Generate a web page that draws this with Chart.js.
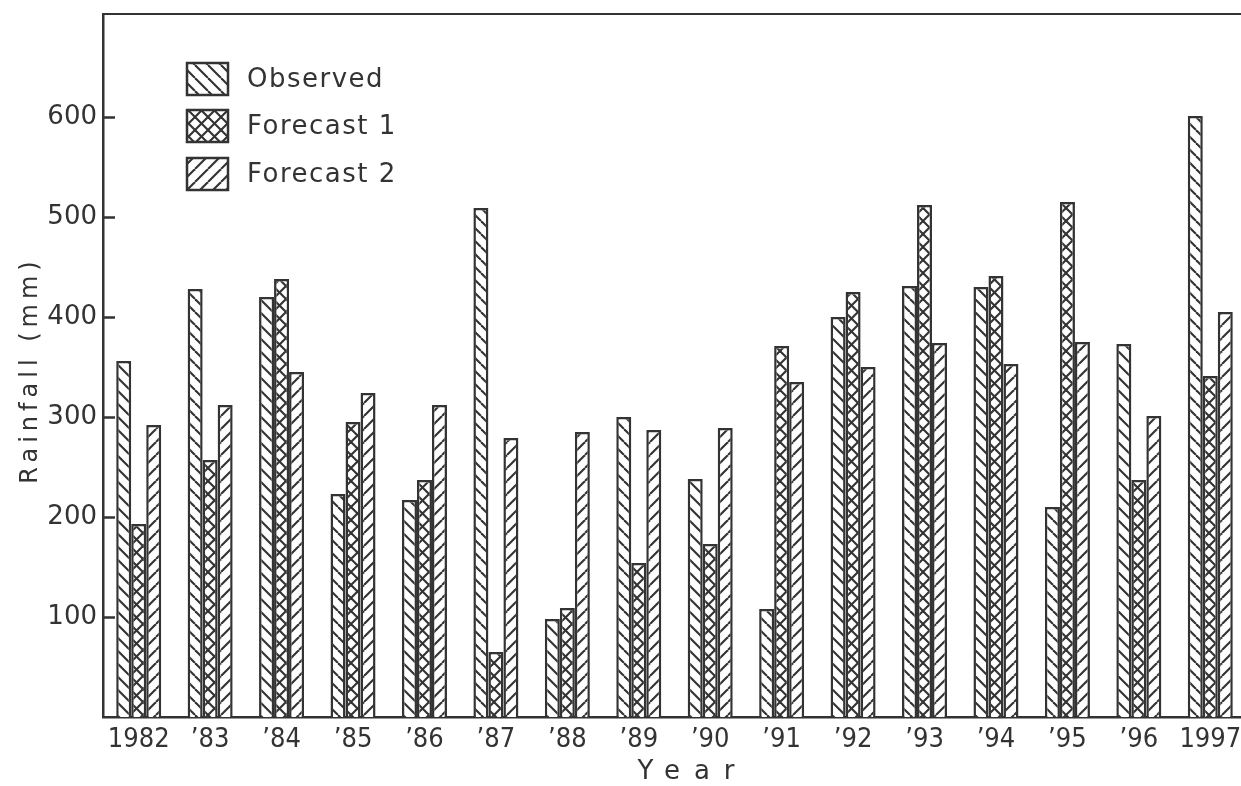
<!DOCTYPE html>
<html>
<head>
<meta charset="utf-8">
<script src="https://cdn.jsdelivr.net/npm/chart.js@4.4.1/dist/chart.umd.min.js"></script>
<style>
  html, body { margin: 0; padding: 0; background: #fff; overflow: hidden; }
  #wrap { width: 1241px; height: 786px; overflow: hidden; }
</style>
</head>
<body>
<div id="wrap"><canvas id="rain" width="1246" height="786"></canvas></div>
<script>
// values (mm)
var years = ['1982', '\u201983', '\u201984', '\u201985', '\u201986', '\u201987', '\u201988', '\u201989',
             '\u201990', '\u201991', '\u201992', '\u201993', '\u201994', '\u201995', '\u201996', '1997'];
var observed  = [356, 428, 420, 223, 217, 509, 98, 300, 238, 108, 400, 431, 430, 210, 373, 601];
var forecast1 = [193, 257, 438, 295, 237, 65, 109, 154, 173, 371, 425, 512, 441, 515, 237, 341];
var forecast2 = [292, 312, 345, 324, 312, 279, 285, 287, 289, 335, 350, 374, 353, 375, 301, 405];
var yTicks = [100, 200, 300, 400, 500, 600];
var seriesNames = ['Observed', 'Forecast 1', 'Forecast 2'];

var ink = '#333333';

function makeHatch(dirs) {
    var s = 13;
    var c = document.createElement('canvas');
    c.width = s; c.height = s;
    var g = c.getContext('2d');
    g.fillStyle = '#fff';
    g.fillRect(0, 0, s, s);
    g.strokeStyle = ink;
    g.lineWidth = 2.1;
    dirs.forEach(function (d) {
        for (var k = -1; k <= 1; k++) {
            g.beginPath();
            if (d === 'back') { g.moveTo(k * s, 0); g.lineTo(k * s + s, s); }
            else { g.moveTo(k * s, s); g.lineTo(k * s + s, 0); }
            g.stroke();
        }
    });
    return g.createPattern(c, 'repeat');
}

var patterns = [makeHatch(['back']), makeHatch(['back', 'fwd']), makeHatch(['fwd'])];
var seriesData = [observed, forecast1, forecast2];

var datasets = [];
for (var i = 0; i < seriesData.length; i++) {
    datasets.push({
        label: seriesNames[i],
        data: seriesData[i],
        backgroundColor: patterns[i],
        borderColor: ink,
        borderWidth: 2.5,
        barPercentage: 1,
        categoryPercentage: 0.63
    });
}

// inward tick marks, legend box and spaced axis titles
var extras = {
    id: 'extras',
    afterDraw: function (chart) {
        var ctx = chart.ctx;
        var y = chart.scales.y;
        var left = chart.chartArea.left;
        ctx.save();
        ctx.strokeStyle = ink;
        ctx.lineWidth = 2.5;
        yTicks.forEach(function (v) {
            var py = Math.round(y.getPixelForValue(v)) + 0.5;
            ctx.beginPath();
            ctx.moveTo(left, py);
            ctx.lineTo(left + 12, py);
            ctx.stroke();
        });

        // legend
        var bx = 187, by = [63, 110, 158];
        ctx.font = '26px "DejaVu Sans"';
        ctx.letterSpacing = '1.5px';
        ctx.textBaseline = 'middle';
        ctx.textAlign = 'left';
        for (var k = 0; k < 3; k++) {
            ctx.fillStyle = patterns[k];
            ctx.fillRect(bx, by[k], 41, 32);
            ctx.lineWidth = 2.5;
            ctx.strokeRect(bx, by[k], 41, 32);
            ctx.fillStyle = ink;
            ctx.fillText(seriesNames[k], 247, by[k] + 17);
        }

        // axis titles
        ctx.font = '24px "DejaVu Sans"';
        ctx.letterSpacing = '5px';
        ctx.textAlign = 'center';
        ctx.save();
        ctx.translate(31, 370);
        ctx.rotate(-Math.PI / 2);
        ctx.fillText('Rainfall (mm)', 0, 0);
        ctx.restore();
        ctx.font = '26px "DejaVu Sans"';
        ctx.letterSpacing = '14px';
        ctx.fillText('Year', 693, 772);
        ctx.restore();
    }
};

new Chart(document.getElementById('rain'), {
    type: 'bar',
    data: { labels: years, datasets: datasets },
    plugins: [extras],
    options: {
        responsive: false,
        animation: false,
        devicePixelRatio: 1,
        layout: { padding: 0 },
        plugins: { legend: { display: false }, tooltip: { enabled: false } },
        scales: {
            x: {
                position: 'bottom',
                grid: { display: false, drawTicks: false },
                border: { display: true, color: ink, width: 2.5 },
                ticks: {
                    color: ink,
                    padding: 7,
                    maxRotation: 0,
                    autoSkip: false,
                    font: { family: "'Liberation Sans Narrow', 'DejaVu Sans Condensed', sans-serif", size: 27 }
                },
                afterFit: function (s) { s.height = 69; s.paddingLeft = 0; s.paddingRight = 0; }
            },
            xTop: {
                type: 'category',
                position: 'top',
                grid: { display: false, drawTicks: false },
                border: { display: true, color: ink, width: 2 },
                ticks: { display: false },
                afterFit: function (s) { s.height = 14; }
            },
            y: {
                min: 0,
                max: 703,
                grid: { display: false, drawTicks: false },
                border: { display: true, color: ink, width: 2.5 },
                afterBuildTicks: function (s) {
                    s.ticks = yTicks.map(function (v) { return { value: v }; });
                },
                ticks: {
                    color: ink,
                    padding: 6,
                    font: { family: "'DejaVu Sans', sans-serif", size: 26 }
                },
                afterFit: function (s) { s.width = 103; s.paddingTop = 0; s.paddingBottom = 0; }
            }
        }
    }
});
</script>
</body>
</html>
